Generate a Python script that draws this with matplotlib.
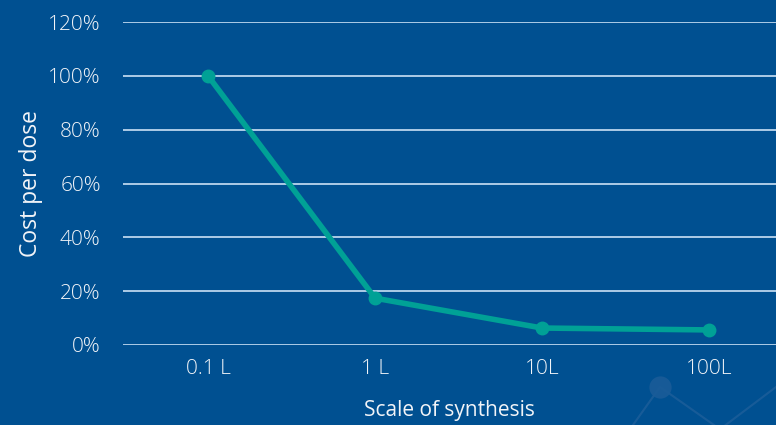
import matplotlib.pyplot as plt
from matplotlib.lines import Line2D

scales = ["0.1 L", "1 L", "10L", "100L"]
cost_pct = [100, 17.4, 6.3, 5.6]
y_ticks = [0, 20, 40, 60, 80, 100, 120]

bg = "#005091"
teal = "#00A196"
txt = "#F2F4F8"

plt.rcParams["font.family"] = ["Open Sans", "DejaVu Sans"]
plt.rcParams["font.weight"] = "light"

fig = plt.figure(figsize=(7.76, 4.25), dpi=100)
fig.patch.set_facecolor(bg)

# faint background decoration
deco = "#1E5F9A"
fig.add_artist(Line2D([633 / 776, 660 / 776, 720 / 776, 776 / 776],
                      [0.0, 1 - 387 / 425, -0.01, 1 - 387 / 425],
                      color=deco, lw=1.5, alpha=0.8))
fig.add_artist(Line2D([660 / 776], [1 - 387 / 425], marker="o", ms=16,
                      color="#1A5C98", mec="none", alpha=0.9))

ax = fig.add_axes([123 / 776, 1 - 345 / 425, 1 - 123 / 776, (345 - 22) / 425])
ax.set_facecolor("none")

x = list(range(len(scales)))
ax.plot(x, cost_pct, color=teal, lw=4, marker="o", ms=9, zorder=3,
        solid_capstyle="round")

ax.set_xlim(-0.509, 3.40)
ax.set_ylim(0, 120)
ax.set_yticks(y_ticks)
ax.set_yticklabels([f"{v}%" for v in y_ticks])
ax.set_xticks(x)
ax.set_xticklabels(scales)
ax.grid(axis="y", color="#BBD5EE", lw=1.3)
ax.set_axisbelow(True)
for s in ax.spines.values():
    s.set_visible(False)
ax.tick_params(length=0, colors=txt, labelsize=15)
ax.tick_params(axis="y", pad=16)
ax.tick_params(axis="x", pad=10)

ax.set_xlabel("Scale of synthesis", color=txt, fontsize=15, labelpad=15)
ax.set_ylabel("Cost per dose", color=txt, fontsize=16.5, labelpad=4)

fig.savefig("out.png", dpi=100, facecolor=bg)
